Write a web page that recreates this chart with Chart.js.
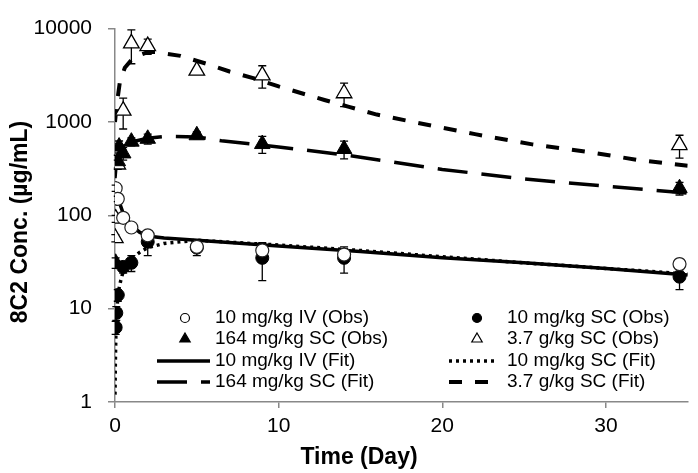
<!DOCTYPE html>
<html>
<head>
<meta charset="utf-8">
<script src="https://cdn.jsdelivr.net/npm/chart.js@4.4.0/dist/chart.umd.min.js"></script>
<style>
  html, body { margin: 0; padding: 0; background: #fff; }
  #wrap { width: 698px; height: 473px; }
</style>
</head>
<body>
<div id="wrap"><canvas id="pkChart" width="698" height="473"></canvas></div>
<script>
// Observed means (day, ug/mL) with SD
const ivObsTime = [0.04, 0.17, 0.5, 1, 2, 5, 9, 14, 34.5];
const ivObsConc = [195, 150, 94, 74, 61, 46, 42, 38, 30];
const ivObsSd   = [15, 10, 8, 6, 5, 5, 9, 5, 4];

const scObsTime = [0.04, 0.08, 0.17, 0.5, 1, 2, 5, 9, 14, 34.5];
const scObsConc = [6.3, 9, 14, 28, 31, 52, 45, 35, 35, 22];
const scObsSd   = [1, 1.5, 2, 4, 6, 15, 8, 15, 11, 6];

const midObsTime = [0.04, 0.17, 0.25, 0.5, 1, 2, 5, 9, 14, 34.5];
const midObsConc = [31, 380, 545, 460, 615, 660, 720, 580, 513, 195];
const midObsSd   = [4, 60, 80, 70, 60, 80, 60, 120, 110, 30];

const highObsTime = [0.02, 0.04, 0.17, 0.5, 1, 2, 5, 9, 14, 34.5];
const highObsConc = [57, 92, 350, 1320, 6950, 6500, 3550, 3150, 2030, 565];
const highObsSd   = [5, 8, 40, 480, 2750, 1200, 200, 850, 570, 155];

// Model fits
const ivFitTime = [0, 0.1, 0.25, 0.5, 1, 1.5, 2, 3, 5, 10, 15, 20, 25, 30, 35];
const ivFitConc = [230, 180, 140, 105, 78, 66, 60, 57, 54, 47, 41, 35, 31, 27, 23];

const scFitTime = [0, 0.02, 0.05, 0.1, 0.2, 0.35, 0.5, 0.75, 1, 1.5, 2, 3, 5, 10, 15, 20, 25, 30, 35];
const scFitConc = [1.2, 2.5, 5, 9, 15, 20, 25, 30, 34, 40, 45, 50, 54, 48, 42, 36, 31, 27, 23.5];

const midFitTime = [0, 0.1, 0.25, 0.5, 1, 2, 3, 5, 6.5, 10, 14, 20, 25, 30, 35];
const midFitConc = [250, 400, 480, 550, 610, 670, 700, 690, 630, 540, 445, 310, 245, 205, 173];

const highFitTime = [0, 0.1, 0.3, 0.6, 1, 1.5, 2, 2.5, 4, 5.6, 7, 8.5, 10, 12.8, 14.3, 16, 19, 22, 25.5, 29, 32, 35];
const highFitConc = [1000, 1500, 2700, 3800, 4600, 5200, 5600, 5600, 5100, 4200, 3470, 2930, 2400, 1720, 1450, 1200, 940, 740, 575, 475, 390, 340];

const xTicks = [0, 10, 20, 30];
const yTicks = [1, 10, 100, 1000, 10000];

const labels = [
    '10 mg/kg IV (Obs)', '10 mg/kg SC (Obs)',
    '164 mg/kg SC (Obs)', '3.7 g/kg SC (Obs)',
    '10 mg/kg IV (Fit)', '10 mg/kg SC (Fit)',
    '164 mg/kg SC (Fit)', '3.7 g/kg SC (Fit)'
];
const xTitle = 'Time (Day)';
const yTitle = '8C2 Conc. (µg/mL)';

function pts(xs, ys) {
    return xs.map(function(x, i) { return { x: x, y: ys[i] }; });
}

const FONT = "'Liberation Sans', Arial, sans-serif";
Chart.defaults.font.family = FONT;
Chart.defaults.color = '#000';

// error bars drawn under the markers
const errorBars = {
    id: 'errorBars',
    beforeDatasetsDraw: function(chart) {
        const ctx = chart.ctx;
        const xs = chart.scales.x, ys = chart.scales.y;
        ctx.save();
        ctx.strokeStyle = '#000';
        ctx.lineWidth = 1.3;
        chart.data.datasets.forEach(function(ds) {
            if (!ds.sd) return;
            ds.data.forEach(function(p, i) {
                const px = xs.getPixelForValue(p.x);
                const top = ys.getPixelForValue(p.y + ds.sd[i]);
                const bot = ys.getPixelForValue(Math.max(p.y - ds.sd[i], 1));
                ctx.beginPath();
                ctx.moveTo(px, top); ctx.lineTo(px, bot);
                ctx.moveTo(px - 4, top); ctx.lineTo(px + 4, top);
                ctx.moveTo(px - 4, bot); ctx.lineTo(px + 4, bot);
                ctx.stroke();
            });
        });
        ctx.restore();
    }
};

// two-column legend inside the plot, plus the axis titles
const sideLegend = {
    id: 'sideLegend',
    afterDraw: function(chart) {
        const ctx = chart.ctx;
        const rowsY = [318, 339, 361, 382];
        const cols = [
            { mark: 185, lineA: 157, lineB: 210, text: 215 },
            { mark: 477, lineA: 449, lineB: 496, text: 507 }
        ];
        ctx.save();
        chart.data.datasets.forEach(function(ds, i) {
            const c = cols[i % 2];
            const y = rowsY[Math.floor(i / 2)];
            ctx.strokeStyle = '#000';
            ctx.fillStyle = '#000';
            if (ds.showLine) {
                ctx.lineWidth = ds.borderWidth;
                ctx.setLineDash(ds.borderDash || []);
                ctx.beginPath();
                ctx.moveTo(c.lineA, y); ctx.lineTo(c.lineB, y);
                ctx.stroke();
                ctx.setLineDash([]);
            } else {
                ctx.lineWidth = 1.2;
                ctx.fillStyle = ds.pointBackgroundColor;
                ctx.beginPath();
                if (ds.pointStyle === 'triangle') {
                    const r = 6;
                    ctx.moveTo(c.mark, y - r);
                    ctx.lineTo(c.mark + r * 0.87, y + r * 0.5);
                    ctx.lineTo(c.mark - r * 0.87, y + r * 0.5);
                    ctx.closePath();
                } else {
                    ctx.arc(c.mark, y, 4.5, 0, Math.PI * 2);
                }
                ctx.fill();
                ctx.stroke();
            }
            ctx.fillStyle = '#000';
            ctx.font = '19px ' + FONT;
            ctx.textBaseline = 'middle';
            ctx.textAlign = 'left';
            ctx.fillText(ds.label, c.text, y);
        });
        ctx.font = 'bold 23px ' + FONT;
        ctx.textAlign = 'center';
        ctx.fillText(xTitle, 359, 458);
        ctx.translate(21, 222);
        ctx.rotate(-Math.PI / 2);
        ctx.fillText(yTitle, 0, 0);
        ctx.restore();
    }
};

new Chart(document.getElementById('pkChart'), {
    type: 'scatter',
    data: {
        datasets: [
            {
                label: labels[0], data: pts(ivObsTime, ivObsConc), sd: ivObsSd,
                pointStyle: 'circle', pointRadius: 6.5,
                pointBackgroundColor: '#fff', pointBorderColor: '#222', pointBorderWidth: 1.2
            },
            {
                label: labels[1], data: pts(scObsTime, scObsConc), sd: scObsSd,
                pointStyle: 'circle', pointRadius: 6.5,
                pointBackgroundColor: '#000', pointBorderColor: '#000', pointBorderWidth: 1
            },
            {
                label: labels[2], data: pts(midObsTime, midObsConc), sd: midObsSd,
                pointStyle: 'triangle', pointRadius: 9,
                pointBackgroundColor: '#000', pointBorderColor: '#000', pointBorderWidth: 1
            },
            {
                label: labels[3], data: pts(highObsTime, highObsConc), sd: highObsSd,
                pointStyle: 'triangle', pointRadius: 9,
                pointBackgroundColor: '#fff', pointBorderColor: '#000', pointBorderWidth: 1.3
            },
            {
                label: labels[4], data: pts(ivFitTime, ivFitConc), showLine: true,
                borderColor: '#000', borderWidth: 3.5, pointRadius: 0
            },
            {
                label: labels[5], data: pts(scFitTime, scFitConc), showLine: true,
                borderColor: '#000', borderWidth: 3.5, borderDash: [3, 4], pointRadius: 0
            },
            {
                label: labels[6], data: pts(midFitTime, midFitConc), showLine: true,
                borderColor: '#000', borderWidth: 3.5, borderDash: [30, 14], pointRadius: 0
            },
            {
                label: labels[7], data: pts(highFitTime, highFitConc), showLine: true,
                borderColor: '#000', borderWidth: 4, borderDash: [13, 13], pointRadius: 0
            }
        ]
    },
    options: {
        responsive: false,
        animation: false,
        layout: { padding: { top: 19, right: 9, left: 0, bottom: 0 } },
        plugins: {
            legend: { display: false },
            tooltip: { enabled: false }
        },
        scales: {
            x: {
                type: 'linear',
                min: 0,
                max: 35,
                afterFit: function(s) { s.height = 71; },
                afterBuildTicks: function(s) {
                    s.ticks = xTicks.map(function(v) { return { value: v }; });
                },
                grid: { drawOnChartArea: false, color: '#888', tickLength: 6, lineWidth: 1.5 },
                border: { color: '#888', width: 1.5 },
                ticks: { font: { size: 21 }, color: '#000', padding: 6 }
            },
            y: {
                type: 'logarithmic',
                min: 1,
                max: 10000,
                afterFit: function(s) { s.width = 115; },
                afterBuildTicks: function(s) {
                    s.ticks = yTicks.map(function(v) { return { value: v }; });
                },
                grid: { drawOnChartArea: false, color: '#888', tickLength: 7, lineWidth: 1.5 },
                border: { color: '#888', width: 1.5 },
                ticks: {
                    font: { size: 21 }, color: '#000', padding: 16,
                    callback: function(v) { return String(v); }
                }
            }
        }
    },
    plugins: [errorBars, sideLegend]
});
</script>
</body>
</html>
